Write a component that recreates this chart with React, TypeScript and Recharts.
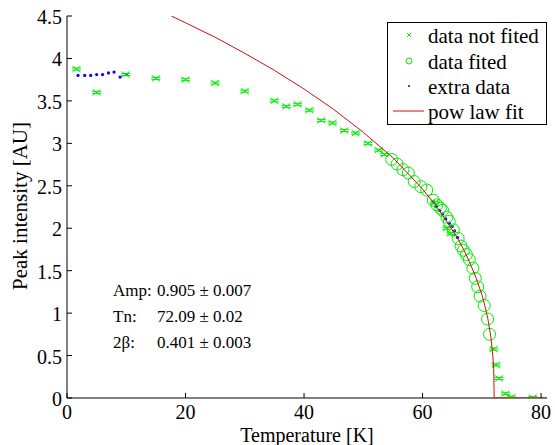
import React from 'react';
import { ComposedChart, Scatter, XAxis, YAxis } from 'recharts';

// ---- data ----
const notFitT = [1.6, 5.0, 9.9, 15.0, 20.0, 25.0, 30.0, 35.0, 37.0, 38.9, 40.9, 42.9, 44.8, 46.8, 48.7, 50.8, 52.6, 53.6, 62.0, 64.1, 64.8, 72.0, 72.4, 72.9, 74.0, 75.0, 78.6];
const notFitI = [3.875, 3.6, 3.81, 3.765, 3.75, 3.71, 3.615, 3.5, 3.435, 3.46, 3.39, 3.27, 3.24, 3.15, 3.12, 3.0, 2.92, 2.87, 2.3, 2.0, 1.94, 0.576, 0.39, 0.23, 0.05, 0.01, 0.005];

const fitT = [54.8, 55.7, 56.7, 57.6, 58.6, 59.7, 60.7, 61.8, 62.4, 63.0, 63.4, 64.1, 64.5, 65.2, 66.0, 66.5, 66.9, 67.4, 67.9, 68.5, 68.9, 69.3, 69.7, 70.4, 70.97, 71.3];
const fitI = [2.81, 2.756, 2.69, 2.65, 2.55, 2.49, 2.45, 2.33, 2.275, 2.235, 2.21, 2.13, 2.08, 1.98, 1.88, 1.79, 1.74, 1.69, 1.63, 1.53, 1.41, 1.31, 1.2, 1.09, 0.93, 0.75];

const extraT = [1.86, 2.99, 4.0, 5.0, 6.0, 7.0, 7.94, 8.96, 10.0, 61.9, 62.3, 62.9, 63.4, 63.9, 64.5, 65.0, 65.4, 65.9];
const extraI = [3.8, 3.8, 3.8, 3.81, 3.81, 3.83, 3.84, 3.78, 3.81, 2.31, 2.26, 2.21, 2.17, 2.11, 2.06, 2.02, 1.97, 1.89];

const powT = [17.6, 20, 25, 30, 35, 40, 45, 50, 55, 58, 60, 62, 64, 66, 67, 68, 69, 70, 70.5, 71, 71.5, 71.8, 72, 72.09, 81];
const powI = [4.5, 4.42, 4.25, 4.06, 3.86, 3.64, 3.4, 3.13, 2.83, 2.61, 2.46, 2.29, 2.09, 1.87, 1.74, 1.59, 1.42, 1.22, 1.09, 0.94, 0.73, 0.55, 0.35, 0, 0];

const xTicks = [0, 20, 40, 60, 80];
const yTicks = [0, 0.5, 1, 1.5, 2, 2.5, 3, 3.5, 4, 4.5];

const legendLabels = ['data not fited', 'data fited', 'extra data', 'pow law fit'];
const annotLabels = ['Amp:', 'Tn:', '2\u03b2:'];
const annotValues = ['0.905 \u00b1 0.007', '72.09 \u00b1 0.02', '0.401 \u00b1 0.003'];

const toPts = (t: number[], v: number[]) => t.map((x, i) => ({ x, y: v[i] }));
const notFitData = toPts(notFitT, notFitI);
const fitData = toPts(fitT, fitI);
const extraData = toPts(extraT, extraI);
const powData = toPts(powT, powI);

const GREEN = '#00ee00';
const RED = '#cc1111';
const BLUE = '#0000ff';
const FONT = '"Liberation Serif", "Times New Roman", serif';

const XMark = (props: any) => {
  const { cx, cy } = props;
  if (cx == null || cy == null) return <g />;
  return (
    <g stroke={GREEN} strokeWidth={1} fill="none">
      <line x1={cx - 4} y1={cy - 3} x2={cx + 4} y2={cy + 3} />
      <line x1={cx - 4} y1={cy + 3} x2={cx + 4} y2={cy - 3} />
      <line x1={cx - 4.5} y1={cy - 1} x2={cx + 4.5} y2={cy - 1} />
      <line x1={cx - 4.5} y1={cy + 1} x2={cx + 4.5} y2={cy + 1} />
    </g>
  );
};

const OMark = (props: any) => {
  const { cx, cy } = props;
  if (cx == null || cy == null) return <g />;
  return <circle cx={cx} cy={cy} r={6} fill="none" stroke={GREEN} strokeWidth={1} />;
};

const DotMark = (props: any) => {
  const { cx, cy } = props;
  if (cx == null || cy == null) return <g />;
  return <circle cx={cx} cy={cy} r={1.6} fill={BLUE} stroke="none" />;
};

const NoMark = () => <g />;

const XTick = (props: any) => {
  const { x, y, payload } = props;
  const axisY = y - 9;
  return (
    <g>
      <line x1={x} y1={axisY} x2={x} y2={axisY - 5} stroke="#000" strokeWidth={1} />
      <text x={x} y={y} dy={12} textAnchor="middle" fontFamily={FONT} fontSize={20} fill="#000">
        {String(payload.value)}
      </text>
    </g>
  );
};

const YTick = (props: any) => {
  const { x, y, payload } = props;
  const axisX = x + 5;
  return (
    <g>
      <line x1={axisX} y1={y} x2={axisX + 5} y2={y} stroke="#000" strokeWidth={1} />
      <text x={x} y={y} dy={8} textAnchor="end" fontFamily={FONT} fontSize={20} fill="#000">
        {String(payload.value)}
      </text>
    </g>
  );
};

export default function App() {
  const legY = [35, 61, 86, 111];
  const annY = [296, 322, 348];
  return (
    <div style={{ position: 'absolute', left: 0, top: 0, width: 555, height: 445, background: '#fff' }}>
      <ComposedChart width={555} height={445} margin={{ top: 16, right: 8, bottom: 17, left: 0 }}>
        <XAxis
          type="number"
          dataKey="x"
          domain={[0, 81]}
          ticks={xTicks}
          interval={0}
          allowDataOverflow
          height={30}
          tickSize={0}
          tickMargin={9}
          tickLine={false}
          axisLine={{ stroke: '#000', strokeWidth: 1 }}
          tick={<XTick />}
        />
        <YAxis
          type="number"
          dataKey="y"
          domain={[0, 4.5]}
          ticks={yTicks}
          interval={0}
          allowDataOverflow
          width={67}
          tickSize={0}
          tickMargin={5}
          tickLine={false}
          axisLine={{ stroke: '#000', strokeWidth: 1 }}
          tick={<YTick />}
        />
        <Scatter data={extraData} shape={<DotMark />} isAnimationActive={false} />
        <Scatter data={notFitData} shape={<XMark />} isAnimationActive={false} />
        <Scatter data={fitData} shape={<OMark />} isAnimationActive={false} />
        <Scatter
          data={powData}
          shape={<NoMark />}
          line={{ stroke: RED, strokeWidth: 1 }}
          lineType="joint"
          isAnimationActive={false}
        />
      </ComposedChart>
      <svg width={555} height={445} style={{ position: 'absolute', left: 0, top: 0, pointerEvents: 'none' }}>
        <text x={307} y={441.5} textAnchor="middle" fontFamily={FONT} fontSize={20} fill="#000">
          Temperature [K]
        </text>
        <text transform="translate(27,206) rotate(-90)" textAnchor="middle" fontFamily={FONT} fontSize={21} fill="#000">
          Peak intensity [AU]
        </text>
        {annotLabels.map((l, i) => (
          <g key={l}>
            <text x={113} y={annY[i]} fontFamily={FONT} fontSize={17} fill="#000">{l}</text>
            <text x={157} y={annY[i]} fontFamily={FONT} fontSize={17} fill="#000">{annotValues[i]}</text>
          </g>
        ))}
        <rect x={387.5} y={22.5} width={159} height={102} fill="#fff" stroke="#000" strokeWidth={1} />
        <g stroke={GREEN} strokeWidth={1}>
          <line x1={407} y1={33} x2={411} y2={37} />
          <line x1={407} y1={37} x2={411} y2={33} />
        </g>
        <circle cx={409} cy={legY[1]} r={3} fill="none" stroke={GREEN} strokeWidth={1} />
        <circle cx={409} cy={legY[2]} r={1} fill={BLUE} />
        <line x1={393} y1={legY[3]} x2={424} y2={legY[3]} stroke={RED} strokeWidth={1} />
        {legendLabels.map((l, i) => (
          <text key={l} x={428} y={legY[i] + 8} fontFamily={FONT} fontSize={21} fill="#000">{l}</text>
        ))}
      </svg>
    </div>
  );
}
